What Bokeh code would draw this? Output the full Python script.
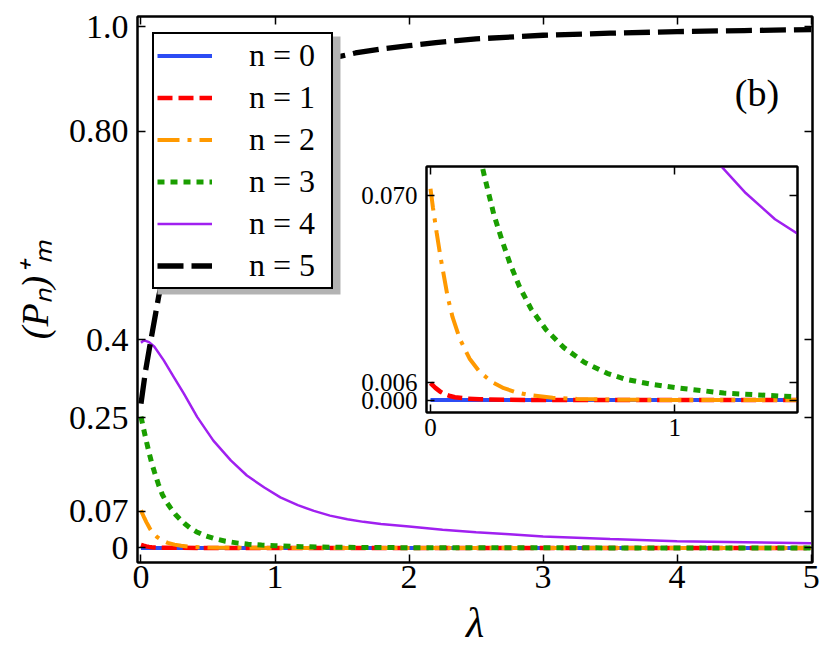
from bokeh.plotting import figure
from bokeh.models import Range1d, FixedTicker, LinearAxis, Legend, LegendItem, Label, BoxAnnotation
from bokeh.layouts import column
from bokeh.embed import file_html
from bokeh.resources import INLINE

# ---------------- data ----------------
lam_n0 = [0, 1, 2, 3, 4, 5]
p_n0 = [0, 0, 0, 0, 0, 0]

lam_n1 = [0, 0.02, 0.04, 0.06, 0.08, 0.1, 0.15, 0.2, 0.3, 0.5, 1, 2, 3, 4, 5]
p_n1 = [0.0058, 0.0042, 0.0029, 0.0020, 0.0014, 0.0010, 0.0005, 0.0003, 0.0001, 0, 0, 0, 0, 0, 0]

lam_n2 = [0, 0.01, 0.025, 0.04, 0.055, 0.07, 0.09, 0.12, 0.16, 0.2, 0.25, 0.3, 0.35, 0.4,
          0.5, 0.6, 0.8, 1.0, 1.5, 2, 3, 4, 5]
p_n2 = [0.0725, 0.066, 0.0575, 0.0495, 0.0425, 0.0355, 0.0285, 0.0210, 0.0142, 0.0098, 0.0063,
        0.0041, 0.0027, 0.0018, 0.0008, 0.0004, 0.0001, 0.00005, 0, 0, 0, 0, 0]

lam_n3 = [0, 0.02, 0.04, 0.06, 0.08, 0.1, 0.13, 0.16, 0.19, 0.222, 0.259, 0.291, 0.325, 0.364,
          0.412, 0.473, 0.546, 0.631, 0.723, 0.8, 0.9, 1.0, 1.2, 1.5, 2.0, 2.5, 3.0, 4.0, 5.0]
p_n3 = [0.252, 0.228, 0.205, 0.183, 0.163, 0.146, 0.122, 0.102, 0.088, 0.0763, 0.0637, 0.0552,
        0.0469, 0.0389, 0.0312, 0.0241, 0.0180, 0.0129, 0.0092, 0.0071, 0.0055, 0.0043, 0.0024,
        0.0011, 0.0004, 0.0002, 0.0001, 0.00003, 0.00001]

lam_n4 = [0, 0.015, 0.03, 0.06, 0.1, 0.17, 0.245, 0.32, 0.42, 0.54, 0.67, 0.79, 0.92, 1.04,
          1.17, 1.29, 1.41, 1.54, 1.66, 1.79, 2.0, 2.25, 2.5, 2.75, 3.0, 3.5, 4.0, 4.5, 5.0]
p_n4 = [0.394, 0.397, 0.398, 0.395, 0.386, 0.360, 0.328, 0.296, 0.251, 0.206, 0.168, 0.139,
        0.116, 0.097, 0.082, 0.071, 0.062, 0.055, 0.050, 0.046, 0.041, 0.035, 0.030, 0.026,
        0.022, 0.017, 0.013, 0.011, 0.009]

lam_n5 = [0, 0.034, 0.071, 0.108, 0.133, 0.2, 0.3, 0.4, 0.5, 0.7, 1.0, 1.2, 1.46, 1.6, 1.8,
          2.0, 2.2, 2.5, 3.0, 3.5, 4.0, 4.5, 5.0]
p_n5 = [0.277, 0.34, 0.395, 0.448, 0.484, 0.554, 0.637, 0.704, 0.756, 0.828, 0.893, 0.918,
        0.942, 0.950, 0.958, 0.964, 0.970, 0.977, 0.984, 0.988, 0.991, 0.993, 0.995]

series_labels = ["n = 0", "n = 1", "n = 2", "n = 3", "n = 4", "n = 5"]

main_xticks = [0, 1, 2, 3, 4, 5]
main_xlabels = ["0", "1", "2", "3", "4", "5"]
main_yticks = [0, 0.07, 0.25, 0.4, 0.8, 1.0]
main_ylabels = ["0", "0.07", "0.25", "0.4", "0.80", "1.0"]
inset_xticks = [0, 1]
inset_xlabels = ["0", "1"]
inset_yticks = [0, 0.006, 0.07]
inset_ylabels = ["0.000", "0.006", "0.070"]

x_title = "λ"
y_title = "(Pₙ)⁺ₘ"
panel_tag = "(b)"

# ---------------- styles ----------------
SERIF = "Liberation Serif"
STYLES = [
    dict(line_color="#2c4cf4", line_width=4, line_dash="solid"),
    dict(line_color="#ff0000", line_width=4.5, line_dash="15 6"),
    dict(line_color="#ff9900", line_width=4, line_dash="22 8 4 8"),
    dict(line_color="#1a9e00", line_width=5, line_dash="7 6"),
    dict(line_color="#a020f0", line_width=2.5, line_dash="solid"),
    dict(line_color="#000000", line_width=5.3, line_dash="26 8"),
]
DATA = [(lam_n0, p_n0), (lam_n1, p_n1), (lam_n2, p_n2), (lam_n3, p_n3), (lam_n4, p_n4), (lam_n5, p_n5)]


def style_axis(ax, ticks, labels, size, standoff, show_labels=True):
    ax.ticker = FixedTicker(ticks=ticks)
    ax.major_tick_in = 8
    ax.major_tick_out = 0
    ax.major_tick_line_width = 1.5
    ax.major_tick_line_color = "black"
    ax.minor_tick_in = 0
    ax.minor_tick_out = 0
    ax.axis_line_width = 2
    ax.axis_line_color = "black"
    ax.major_label_text_font = SERIF
    ax.axis_label_text_color = "black"
    if show_labels:
        ax.major_label_overrides = {t: l for t, l in zip(ticks, labels)}
        ax.major_label_text_color = "black"
        ax.major_label_text_font_size = size
        ax.major_label_standoff = standoff
    else:
        ax.major_label_text_color = None
        ax.major_label_text_font_size = "1px"
        ax.major_label_standoff = 0


# ---------------- main figure ----------------
p = figure(width=823, height=648, output_backend="svg", toolbar_location=None,
           x_range=Range1d(-0.026, 5.01), y_range=Range1d(-0.028, 1.02),
           min_border_left=137, min_border_right=11, min_border_top=16, min_border_bottom=86,
           background_fill_color="white", border_fill_color="white")
p.grid.visible = False
p.outline_line_color = "black"
p.outline_line_width = 2

style_axis(p.xaxis[0], main_xticks, main_xlabels, "34px", 3)
style_axis(p.yaxis[0], main_yticks, main_ylabels, "34px", 9)
p.xaxis[0].axis_label = x_title
p.xaxis[0].axis_label_text_font = SERIF
p.xaxis[0].axis_label_text_font_style = "italic"
p.xaxis[0].axis_label_text_font_size = "42px"
p.xaxis[0].axis_label_standoff = 9
p.yaxis[0].axis_label = y_title
p.yaxis[0].axis_label_text_font = SERIF
p.yaxis[0].axis_label_text_font_style = "italic"
p.yaxis[0].axis_label_text_font_size = "38px"
p.yaxis[0].axis_label_standoff = 10

top_ax = LinearAxis()
style_axis(top_ax, main_xticks, main_xlabels, "1px", 0, show_labels=False)
p.add_layout(top_ax, "above")
right_ax = LinearAxis()
style_axis(right_ax, main_yticks, main_ylabels, "1px", 0, show_labels=False)
p.add_layout(right_ax, "right")

renderers = []
for (xs, ys), st in zip(DATA, STYLES):
    renderers.append(p.line(xs, ys, **st))

# legend shadow + legend
shadow = BoxAnnotation(left=20, right=203, bottom=268, top=526,
                       left_units="screen", right_units="screen",
                       bottom_units="screen", top_units="screen",
                       fill_color="#b3b3b3", fill_alpha=1.0, line_alpha=0)
p.add_layout(shadow)

legend = Legend(items=[LegendItem(label=lbl, renderers=[r]) for lbl, r in zip(series_labels, renderers)],
                location=(15, 273), padding=3, spacing=5,
                glyph_width=55, glyph_height=31, label_height=31, label_width=79,
                label_standoff=37, margin=0,
                label_text_font=SERIF, label_text_font_size="32px", label_text_color="black",
                border_line_color="black", border_line_width=2, border_line_alpha=1,
                background_fill_color="white", background_fill_alpha=1)
p.add_layout(legend)

# panel tag
p.add_layout(Label(x=619.5, y=470, x_units="screen", y_units="screen", text=panel_tag,
                   text_align="center", text_baseline="alphabetic",
                   text_font=SERIF, text_font_size="38px", text_color="black"))

# ---------------- inset figure ----------------
ins = figure(width=519, height=290, output_backend="svg", toolbar_location=None,
             x_range=Range1d(-0.0164, 1.502), y_range=Range1d(-0.00425, 0.0801),
             min_border_left=137, min_border_right=11, min_border_top=4, min_border_bottom=40,
             background_fill_color="white", border_fill_alpha=0)
ins.grid.visible = False
ins.outline_line_color = "black"
ins.outline_line_width = 2
style_axis(ins.xaxis[0], inset_xticks, inset_xlabels, "25px", 6)
style_axis(ins.yaxis[0], inset_yticks, inset_ylabels, "25px", 9)
ins_top = LinearAxis()
style_axis(ins_top, inset_xticks, inset_xlabels, "1px", 0, show_labels=False)
ins.add_layout(ins_top, "above")
ins_right = LinearAxis()
style_axis(ins_right, inset_yticks, inset_ylabels, "1px", 0, show_labels=False)
ins.add_layout(ins_right, "right")
for (xs, ys), st in zip(DATA, STYLES):
    ins.line(xs, ys, **st)

ins.styles = {"position": "absolute", "left": "289px", "top": "162px"}
layout = column(p, ins, styles={"position": "relative"})

open("out.html", "w").write(file_html(layout, INLINE))
